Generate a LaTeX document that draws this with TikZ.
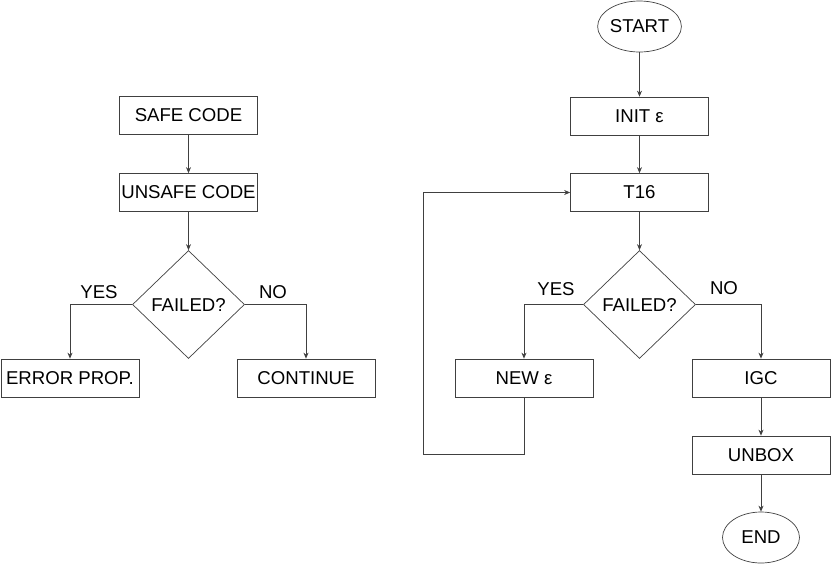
\documentclass[tikz,border=0pt]{standalone}
\usepackage{fontspec}
\setmainfont{Liberation Sans}
\usetikzlibrary{shapes.geometric,arrows.meta}
\begin{document}
\begin{tikzpicture}[x=1pt,y=-1pt,font=\fontsize{18.6}{21}\selectfont]
        \tikzstyle{box} = [rectangle, draw=black!75, line width=0.7pt, minimum width=138pt, minimum height=38pt, inner sep=0pt, align=center]
        \tikzstyle{decision} = [diamond, draw=black!75, line width=0.7pt, minimum width=112pt, minimum height=108pt, inner sep=0pt]
        \tikzstyle{terminal} = [ellipse, draw=black!75, line width=0.7pt, minimum width=77pt, minimum height=51pt, inner sep=0pt]
        \tikzstyle{arr} = [-{Stealth[length=6pt,width=5pt]}, draw=black!75, line width=0.7pt]
        \useasboundingbox (0,0) rectangle (831,566);

        % left flow
        \node (safe) [box] at (188.5,115) {SAFE CODE};
        \node (unsafe) [box] at (188.5,192.5) {UNSAFE CODE};
        \node (fail1) [decision] at (188.5,304.5) {FAILED?};
        \node (errprop) [box] at (70,378) {ERROR PROP.};
        \node (cont) [box] at (306,378) {CONTINUE};
        \node (yes1) at (99,292) {YES};
        \node (no1) at (273,292) {NO};

        \draw[arr] (safe) -- (unsafe);
        \draw[arr] (unsafe) -- (fail1);
        \draw[arr] (fail1.west) -| (errprop);
        \draw[arr] (fail1.east) -| (cont);

        % right flow
        \node (start) [terminal] at (639.5,26.5) {START};
        \node (init) [box] at (639.5,116) {INIT ε};
        \node (t16) [box] at (639.5,192.5) {T16};
        \node (fail2) [decision] at (639.5,304.5) {FAILED?};
        \node (newe) [box] at (524,378) {NEW ε};
        \node (igc) [box] at (761,378) {IGC};
        \node (unbox) [box] at (761,455) {UNBOX};
        \node (fin) [terminal] at (761,537.5) {END};
        \node (yes2) at (556,289) {YES};
        \node (no2) at (724,288) {NO};
        \coordinate (loop) at (423,454);

        \draw[arr] (start) -- (init);
        \draw[arr] (init) -- (t16);
        \draw[arr] (t16) -- (fail2);
        \draw[arr] (fail2.west) -| (newe);
        \draw[arr] (fail2.east) -| (igc);
        \draw[arr] (igc) -- (unbox);
        \draw[arr] (unbox) -- (fin);
        \draw[arr] (newe.south) |- (loop) |- (t16.west);
    \end{tikzpicture}
\end{document}
